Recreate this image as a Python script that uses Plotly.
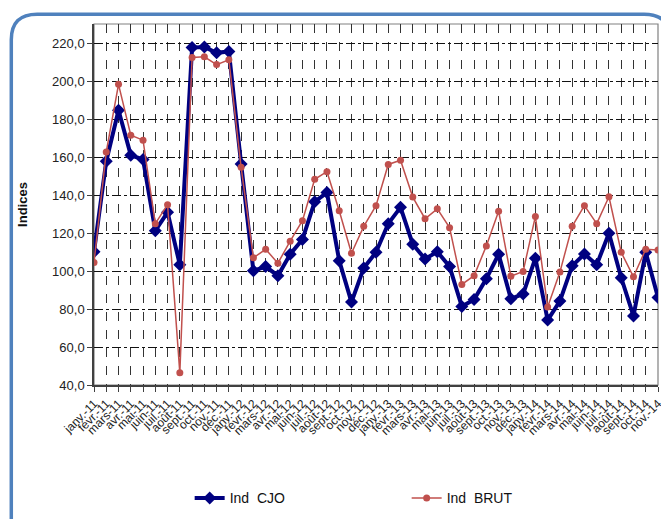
import plotly.graph_objects as go

months = ["janv.", "févr.", "mars", "avr.", "mai", "juin", "juil.", "août", "sept.", "oct.", "nov.", "déc."]
categories = [f"{m}-{y}" for y in ["11", "12", "13", "14"] for m in months][:47]

ind_cjo = [110.2, 157.9, 184.8, 161.1, 158.8, 121.3, 131.0, 103.3, 217.8, 218.1, 215.0, 215.7,
           156.5, 100.2, 102.4, 97.6, 108.9, 116.7, 136.6, 141.4, 105.5, 83.7, 101.6, 109.9,
           125.0, 133.6, 114.2, 106.4, 110.2, 102.4, 81.3, 85.0, 96.0, 108.9, 85.4, 88.0,
           106.8, 74.2, 84.2, 102.8, 109.0, 103.3, 120.0, 96.5, 76.4, 109.9, 86.1]
ind_brut = [104.5, 162.8, 198.4, 171.6, 169.0, 125.0, 135.0, 46.4, 212.6, 212.9, 208.8, 211.3,
            154.7, 107.0, 111.5, 104.2, 115.8, 126.6, 148.4, 152.4, 131.8, 109.4, 123.6, 134.5,
            156.2, 158.4, 139.0, 127.6, 132.8, 122.9, 93.0, 97.6, 113.3, 131.6, 97.3, 99.8,
            128.8, 81.1, 99.5, 123.6, 134.5, 125.0, 139.2, 109.9, 97.0, 111.5, 111.1]
y_ticks = [40, 60, 80, 100, 120, 140, 160, 180, 200, 220]

FONT = "Liberation Sans"

fig = go.Figure()
fig.add_trace(go.Scatter(
    x=categories, y=ind_cjo, name="Ind  CJO", mode="lines+markers",
    line=dict(color="#000080", width=4),
    marker=dict(symbol="diamond", size=10, color="#000080"),
))
fig.add_trace(go.Scatter(
    x=categories, y=ind_brut, name="Ind  BRUT", mode="lines+markers",
    line=dict(color="#C0504D", width=1.5),
    marker=dict(symbol="circle", size=7, color="#C0504D"),
))

W, H = 669, 519
L, R, T, B = 86, 17, 16, 137
pw, ph = W - L - R, H - T - B

def px_x(x):
    return (x - L) / pw

def px_y(y):
    return (H - B - y) / ph

x0, x1 = px_x(3), px_x(664)
y0, y1 = px_y(535), px_y(6)
rx, ry = 26 / pw, 26 / ph
frame_path = (f"M {x0},{y0} L {x0},{y1-ry} Q {x0},{y1} {x0+rx},{y1} "
              f"L {x1-rx},{y1} Q {x1},{y1} {x1},{y1-ry} L {x1},{y0}")

fig.update_layout(
    width=W, height=H,
    margin=dict(l=L, r=R, t=T, b=B),
    paper_bgcolor="white", plot_bgcolor="white",
    separators=", ",
    font=dict(family=FONT, size=12, color="#222222"),
    showlegend=True,
    legend=dict(orientation="h", x=px_x(182), xanchor="left", y=px_y(497), yanchor="middle",
                font=dict(family=FONT, size=14, color="#111111"),
                entrywidth=172, bgcolor="rgba(0,0,0,0)"),
    shapes=[
        dict(type="rect", xref="paper", yref="paper", x0=0, x1=1, y0=0, y1=1,
             line=dict(color="#808080", width=1.2), layer="below"),
        dict(type="path", xref="paper", yref="paper", path=frame_path,
             line=dict(color="#4F81BD", width=3.5)),
    ],
    xaxis=dict(
        type="category", range=[0, len(categories) - 1],
        tickmode="linear", tick0=0, dtick=1,
        tickangle=-45, tickfont=dict(family=FONT, size=12, color="#222222"),
        showgrid=True, gridcolor="#333333", griddash="dash", gridwidth=1,
        showline=True, linecolor="#404040", linewidth=2,
        ticks="outside", ticklen=5, tickcolor="#404040",
        zeroline=False,
    ),
    yaxis=dict(
        range=[40, 230.2], tickvals=y_ticks, tickformat=".1f",
        tickfont=dict(family=FONT, size=13, color="#222222"),
        showgrid=True, gridcolor="#111111", griddash="dashdot", gridwidth=1,
        showline=True, linecolor="#404040", linewidth=1.5,
        ticks="outside", ticklen=5, tickcolor="#404040",
        zeroline=False,
        title=dict(text="<b>Indices</b>", font=dict(family=FONT, size=13, color="#111111"), standoff=22),
    ),
)

fig.write_html("out.html")
